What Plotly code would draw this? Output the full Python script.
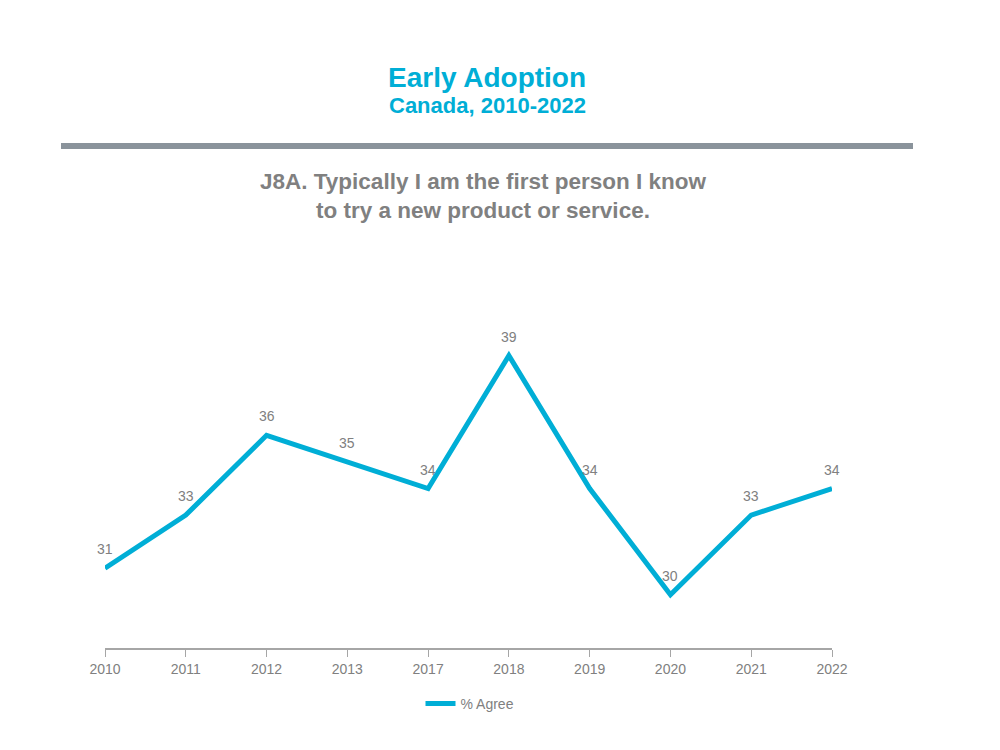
import plotly.graph_objects as go

years = ["2010", "2011", "2012", "2013", "2017", "2018", "2019", "2020", "2021", "2022"]
agree = [31, 33, 36, 35, 34, 39, 34, 30, 33, 34]
series_name = "% Agree"

CYAN = "#00aed6"
GRAY = "#808080"
NARROW = "Liberation Sans Narrow, Arial Narrow, Liberation Sans, Arial"
SANS = "Liberation Sans, Arial, sans-serif"

# page body has an 8px margin; positions below are expressed in screen pixels
OFF = 8
L, R, T, B = 105 - OFF, 168 + OFF, 329 - OFF, 102 + OFF
PW = 1000 - L - R
PH = 750 - T - B


def px(xs):
    return (xs - OFF - L) / PW


def py(ys):
    return (750 - (ys - OFF) - B) / PH


fig = go.Figure()
fig.add_trace(go.Scatter(
    x=years, y=agree, name=series_name, mode="lines",
    line=dict(color=CYAN, width=5),
))

annotations = [
    dict(x=i, y=v, xref="x", yref="y", text=str(v), showarrow=False,
         yshift=19, font=dict(family=NARROW, size=14, color=GRAY))
    for i, v in enumerate(agree)
]
annotations += [
    dict(text="<b>Early Adoption</b>", xref="paper", yref="paper",
         x=px(487), y=py(77), xanchor="center", yanchor="middle",
         showarrow=False, font=dict(family=SANS, size=28, color=CYAN)),
    dict(text="<b>Canada, 2010-2022</b>", xref="paper", yref="paper",
         x=px(487), y=py(105), xanchor="center", yanchor="middle",
         showarrow=False, font=dict(family=SANS, size=22, color=CYAN)),
    dict(text="<b>J8A. Typically I am the first person I know<br>to try a new product or service.</b>",
         xref="paper", yref="paper",
         x=px(483), y=py(196), xanchor="center", yanchor="middle",
         showarrow=False, align="center",
         font=dict(family=SANS, size=22.5, color=GRAY)),
]

fig.update_layout(
    width=1000, height=750,
    paper_bgcolor="white", plot_bgcolor="white",
    margin=dict(l=L, r=R, t=T, b=B),
    font=dict(family=SANS, color=GRAY),
    xaxis=dict(type="category", range=[0, 9], showgrid=False, zeroline=False,
               showline=True, linecolor="#a6a6a6", linewidth=1.5,
               ticks="outside", tickcolor="#a6a6a6", ticklen=7,
               tickfont=dict(family=NARROW, size=14, color=GRAY)),
    yaxis=dict(range=[28, 40], visible=False),
    showlegend=True,
    legend=dict(orientation="h", x=px(470), xanchor="center", y=py(688), yanchor="top",
                font=dict(family=NARROW, size=14, color=GRAY), itemwidth=30),
    annotations=annotations,
    shapes=[dict(type="line", xref="paper", yref="paper",
                 x0=px(61), x1=px(913), y0=py(146), y1=py(146),
                 line=dict(color="#8a939b", width=6))],
)

fig.write_html("out.html")
